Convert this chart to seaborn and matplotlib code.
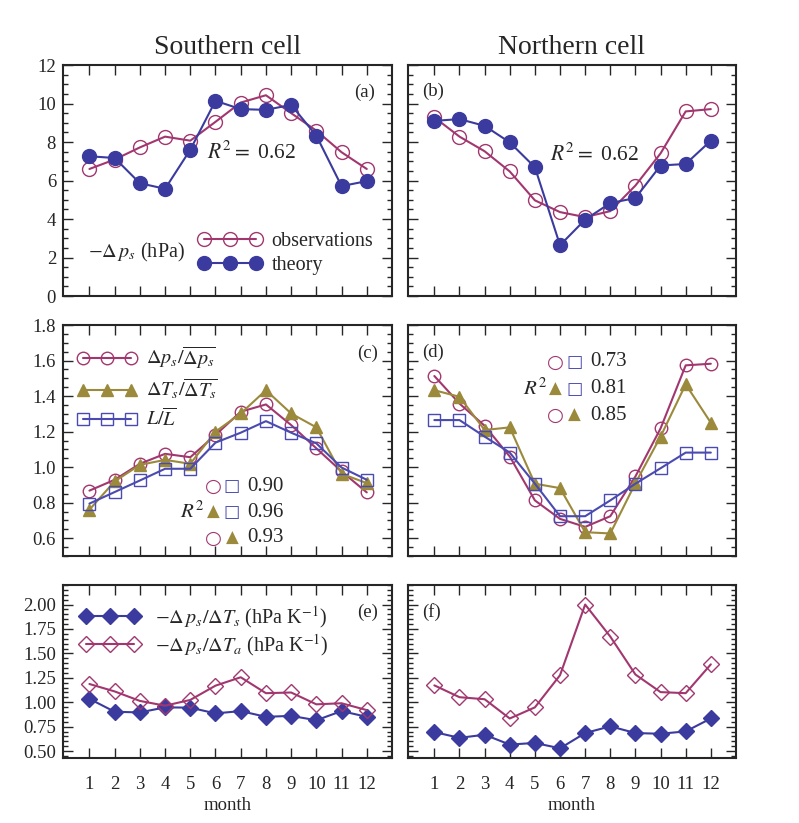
import numpy as np
import matplotlib
matplotlib.use('Agg')
import matplotlib.pyplot as plt
import matplotlib.ticker as mticker
import seaborn as sns

months = np.arange(1, 13)
month_labels = [str(m) for m in months]

# -dp_s (hPa): southern (a) and northern (b) cell
south_obs = [6.60, 7.09, 7.72, 8.28, 8.07, 9.05, 10.05, 10.43, 9.50, 8.59, 7.47, 6.60]
south_theory = [7.26, 7.17, 5.86, 5.57, 7.60, 10.14, 9.71, 9.67, 9.93, 8.33, 5.71, 5.97]
north_obs = [9.28, 8.28, 7.52, 6.47, 4.97, 4.36, 4.10, 4.41, 5.74, 7.41, 9.59, 9.71]
north_theory = [9.10, 9.19, 8.84, 7.98, 6.69, 2.64, 3.97, 4.83, 5.09, 6.78, 6.86, 8.07]

# normalised quantities (c, d)
south_dp = [0.868, 0.929, 1.019, 1.075, 1.056, 1.181, 1.312, 1.353, 1.237, 1.106, 0.976, 0.858]
south_dT = [0.761, 0.920, 1.013, 1.041, 1.019, 1.200, 1.302, 1.433, 1.302, 1.224, 0.963, 0.910]
south_L = [0.795, 0.860, 0.925, 0.991, 0.991, 1.138, 1.194, 1.259, 1.194, 1.134, 0.998, 0.929]
north_dp = [1.513, 1.358, 1.233, 1.060, 0.813, 0.709, 0.664, 0.724, 0.948, 1.218, 1.573, 1.582]
north_dT = [1.433, 1.396, 1.209, 1.224, 0.907, 0.882, 0.634, 0.627, 0.910, 1.172, 1.466, 1.250]
north_L = [1.265, 1.265, 1.172, 1.082, 0.907, 0.724, 0.724, 0.813, 0.907, 0.994, 1.082, 1.082]

# -dp_s/dT (hPa K^-1) (e, f)
south_ratio_s = [1.035, 0.903, 0.896, 0.948, 0.945, 0.886, 0.910, 0.851, 0.861, 0.816, 0.910, 0.851]
south_ratio_a = [1.187, 1.111, 1.014, 0.965, 1.024, 1.170, 1.256, 1.093, 1.100, 0.979, 0.990, 0.920]
north_ratio_s = [0.695, 0.636, 0.668, 0.567, 0.584, 0.529, 0.685, 0.754, 0.685, 0.678, 0.702, 0.834]
north_ratio_a = [1.173, 1.052, 1.031, 0.834, 0.948, 1.277, 2.000, 1.672, 1.284, 1.104, 1.093, 1.388]

r2_ab = '0.62'
r2_south = ['0.90', '0.96', '0.93']
r2_north = ['0.73', '0.81', '0.85']

MAG = '#a2376f'
BLUE = '#3b3b9f'
OLIVE = '#9b8a3c'
SQ = '#4a4ab0'

sns.set_theme(style='ticks')
plt.rcParams['font.family'] = ['Liberation Serif', 'DejaVu Sans']
plt.rcParams['mathtext.fontset'] = 'stix'
plt.rcParams['axes.linewidth'] = 1.5

fig = plt.figure(figsize=(7.99, 8.23), dpi=100)
cols = [(0.0788, 0.4118), (0.5106, 0.4105)]
rows = [(0.6403, 0.2807), (0.3244, 0.2807), (0.0790, 0.2102)]
axes = [[fig.add_axes([c[0], r[0], c[1], r[1]]) for c in cols] for r in rows]


def draw(ax, y, color, marker, filled, ms, label=None):
    sns.lineplot(x=months, y=y, ax=ax, color=color, marker=marker, markersize=ms,
                 markerfacecolor=color if filled else 'none', markeredgecolor=color,
                 markeredgewidth=1.0, linewidth=1.5, label=label)


def style(ax, ylim, major, minor, show_x, show_y):
    ax.set_xlim(-0.05, 13.0)
    ax.set_ylim(*ylim)
    ax.set_xticks(months)
    ax.yaxis.set_major_locator(mticker.MultipleLocator(major))
    ax.yaxis.set_minor_locator(mticker.MultipleLocator(minor))
    ax.tick_params(which='both', direction='in', top=True, right=True, width=1.0,
                   labelsize=13.5, pad=5)
    ax.tick_params(which='major', length=7)
    ax.tick_params(which='minor', length=3.5)
    ax.tick_params(axis='x', pad=13)
    if show_x:
        ax.set_xticklabels(month_labels)
        ax.set_xlabel('month', fontsize=13.5, labelpad=3)
    else:
        ax.set_xticklabels([])
        ax.set_xlabel('')
    if not show_y:
        ax.set_yticklabels([])
    ax.set_ylabel('')
    for s in ax.spines.values():
        s.set_visible(True)
        s.set_linewidth(1.5)


# row 1
ax = axes[0][0]
draw(ax, south_obs, MAG, 'o', False, 10, 'observations')
draw(ax, south_theory, BLUE, 'o', True, 10, 'theory')
ax.legend(loc='upper left', bbox_to_anchor=(0.38, 0.32), frameon=False, numpoints=3,
          handlelength=3.2, handletextpad=0.45, labelspacing=0.25, borderpad=0,
          fontsize=14.5)
ax.text(0.076, 0.19, r'$-\Delta\,p_s$ (hPa)', transform=ax.transAxes, fontsize=14.5, va='center')
ax.text(0.948, 0.883, '(a)', transform=ax.transAxes, fontsize=13.5, ha='right', va='center')
ax.text(0.438, 0.62, r'$R^2 =$ ' + r2_ab, transform=ax.transAxes, fontsize=15.5, va='center')
ax.set_title('Southern cell', fontsize=20, pad=8)

ax = axes[0][1]
draw(ax, north_obs, MAG, 'o', False, 10)
draw(ax, north_theory, BLUE, 'o', True, 10)
ax.text(0.043, 0.885, '(b)', transform=ax.transAxes, fontsize=13.5, va='center')
ax.text(0.433, 0.61, r'$R^2 =$ ' + r2_ab, transform=ax.transAxes, fontsize=15.5, va='center')
ax.set_title('Northern cell', fontsize=20, pad=8)

# row 2
ax = axes[1][0]
draw(ax, south_dp, MAG, 'o', False, 9, r'$\Delta p_s/\overline{\Delta p_s}$')
draw(ax, south_dT, OLIVE, '^', True, 8.5, r'$\Delta T_s/\overline{\Delta T_s}$')
draw(ax, south_L, SQ, 's', False, 8, r'$L/\overline{L}$')
ax.legend(loc='upper left', bbox_to_anchor=(0.012, 0.96), frameon=False, numpoints=3,
          handlelength=3.0, handletextpad=0.45, labelspacing=0.3, borderpad=0,
          fontsize=14.5)
ax.text(0.958, 0.877, '(c)', transform=ax.transAxes, fontsize=13.5, ha='right', va='center')

ax = axes[1][1]
draw(ax, north_dp, MAG, 'o', False, 9)
draw(ax, north_dT, OLIVE, '^', True, 8.5)
draw(ax, north_L, SQ, 's', False, 8)
ax.text(0.043, 0.88, '(d)', transform=ax.transAxes, fontsize=13.5, va='center')

# R^2 tables for pairs of normalised quantities
glyph_size = {'○': 14, '□': 12.5, '▲': 12}
pair_glyphs = [(('○', MAG), ('□', SQ)), (('▲', OLIVE), ('□', SQ)), (('○', MAG), ('▲', OLIVE))]
for ax, vals, ys, xr in [(axes[1][0], r2_south, [0.303, 0.19, 0.078], 0.356),
                         (axes[1][1], r2_north, [0.840, 0.723, 0.610], 0.35)]:
    for (g1, g2), v, yy in zip(pair_glyphs, vals, ys):
        for g, dx in ((g1, 0.100), (g2, 0.158)):
            ax.text(xr + dx, yy, g[0], color=g[1], transform=ax.transAxes,
                    fontsize=glyph_size[g[0]], family='DejaVu Sans', ha='center', va='center')
        ax.text(xr + 0.205, yy, v, transform=ax.transAxes, fontsize=15, va='center')
    ax.text(xr, ys[1], r'$R^2$', transform=ax.transAxes, fontsize=15, va='center')

# row 3
ax = axes[2][0]
draw(ax, south_ratio_s, BLUE, 'D', True, 8, r'$-\Delta\,p_s/\Delta T_s$ (hPa K$^{-1}$)')
draw(ax, south_ratio_a, MAG, 'D', False, 8, r'$-\Delta\,p_s/\Delta T_a$ (hPa K$^{-1}$)')
ax.legend(loc='upper left', bbox_to_anchor=(0.02, 0.95), frameon=False, numpoints=3,
          handlelength=3.0, handletextpad=0.75, labelspacing=0.12, borderpad=0,
          fontsize=14.5)
ax.text(0.957, 0.844, '(e)', transform=ax.transAxes, fontsize=13.5, ha='right', va='center')

ax = axes[2][1]
draw(ax, north_ratio_s, BLUE, 'D', True, 8)
draw(ax, north_ratio_a, MAG, 'D', False, 8)
ax.text(0.043, 0.844, '(f)', transform=ax.transAxes, fontsize=13.5, va='center')

style(axes[0][0], (0, 12), 2, 0.5, False, True)
style(axes[0][1], (0, 12), 2, 0.5, False, False)
style(axes[1][0], (0.5, 1.8), 0.2, 0.05, False, True)
style(axes[1][1], (0.5, 1.8), 0.2, 0.05, False, False)
style(axes[2][0], (0.43, 2.2), 0.25, 0.05, True, True)
style(axes[2][1], (0.43, 2.2), 0.25, 0.05, True, False)
axes[1][0].yaxis.set_major_formatter(mticker.FormatStrFormatter('%.1f'))
axes[2][0].yaxis.set_major_formatter(mticker.FormatStrFormatter('%.2f'))

fig.savefig('out.png', dpi=100)
